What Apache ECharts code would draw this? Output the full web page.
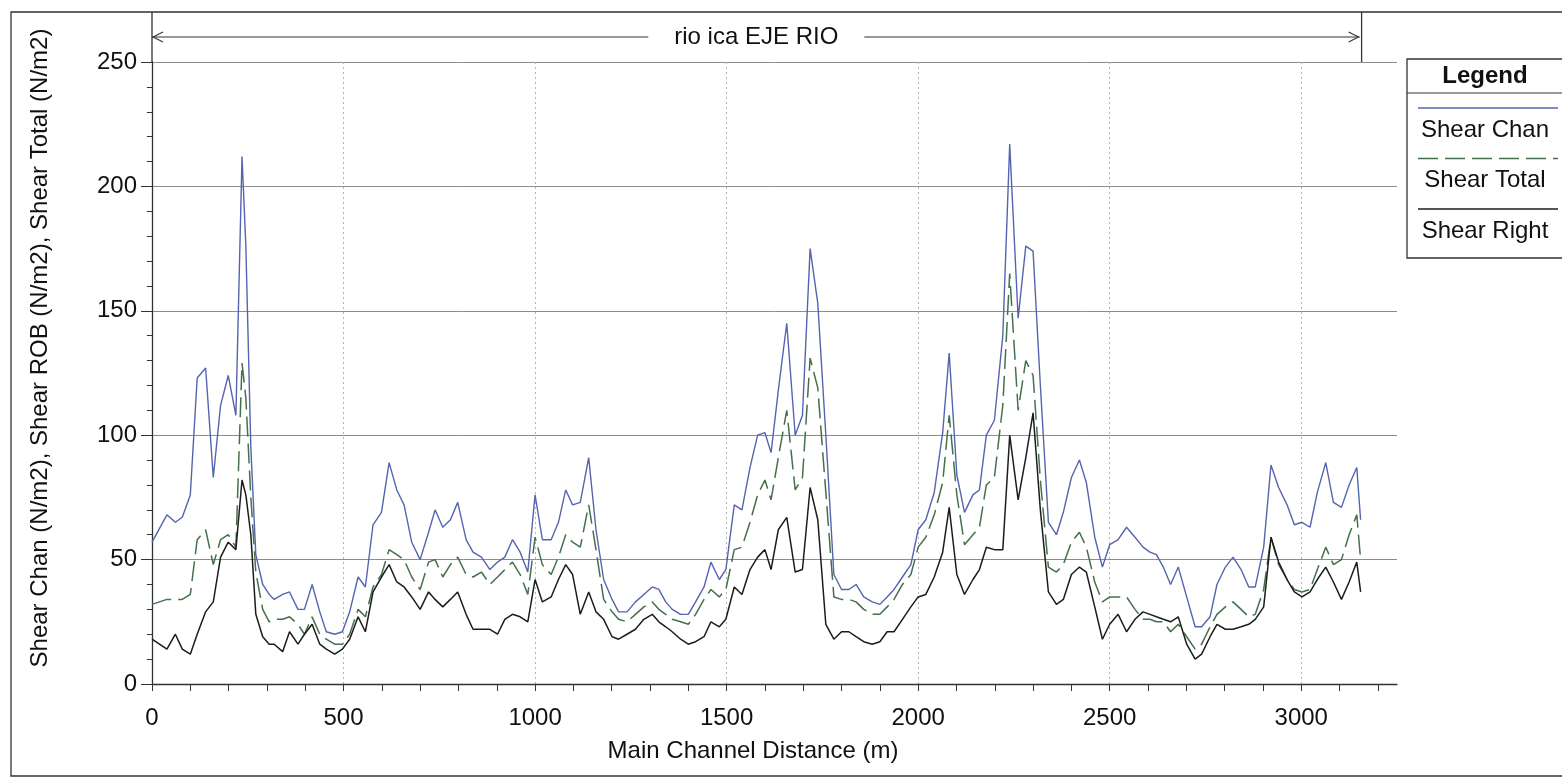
<!DOCTYPE html>
<html>
<head>
<meta charset="utf-8">
<script src="https://cdn.jsdelivr.net/npm/echarts@6/dist/echarts.min.js"></script>
<style>
  html, body { margin: 0; padding: 0; background: #fff; }
  #chart { width: 1562px; height: 778px; }
</style>
</head>
<body>
<div id="chart"></div>
<script>
// HEC-RAS profile: shear stress along the main channel, rio ica EJE RIO

// stations (m) along the main channel
const stations = [
  0, 39, 61, 79, 100, 118, 140, 160, 179, 199,
  219, 235, 245, 258, 271, 289, 306, 319, 341, 359, 381,
  398, 418, 438, 455, 477, 497, 516, 538, 557, 577,
  599, 619, 639, 658, 678, 700, 722, 739, 759, 779,
  798, 820, 838, 860, 882, 902, 921, 941, 961, 981,
  1000, 1019, 1042, 1061, 1080, 1098, 1118, 1140, 1159, 1179,
  1201, 1218, 1240, 1262, 1284, 1306, 1323, 1341, 1358, 1380,
  1400, 1419, 1441, 1459, 1481, 1498, 1520, 1540, 1561, 1581,
  1600, 1616, 1635, 1657, 1679, 1698, 1718, 1738, 1759, 1780,
  1800, 1819, 1838, 1858, 1880, 1900, 1919, 1937, 1959, 1981,
  2000, 2020, 2042, 2064, 2081, 2101, 2121, 2143, 2160, 2178,
  2199, 2221, 2239, 2261, 2281, 2300, 2319, 2340, 2361, 2379,
  2400, 2421, 2439, 2461, 2481, 2500, 2522, 2544, 2566, 2587,
  2605, 2622, 2640, 2659, 2679, 2701, 2723, 2740, 2762, 2780,
  2802, 2822, 2843, 2863, 2880, 2902, 2921, 2941, 2963, 2982,
  3002, 3023, 3042, 3064, 3084, 3105, 3125, 3145, 3155
];

// Shear Chan (N/m2)
const shearChan = [
  57, 68, 65, 67, 76, 123, 127, 83, 112, 124,
  108, 212, 176, 95, 52, 40, 36, 34, 36, 37, 30,
  30, 40, 29, 21, 20, 21, 29, 43, 39, 64,
  69, 89, 78, 72, 57, 50, 61, 70, 63, 66,
  73, 58, 53, 51, 46, 49, 51, 58, 53, 45,
  76, 58, 58, 65, 78, 72, 73, 91, 62, 42,
  34, 29, 29, 33, 36, 39, 38, 33, 30, 28,
  28, 33, 39, 49, 42, 46, 72, 70, 87, 100,
  101, 93, 118, 145, 100, 108, 175, 153, 100, 44,
  38, 38, 40, 35, 33, 32, 35, 38, 43, 48,
  62, 66, 77, 101, 133, 84, 69, 76, 78, 100,
  106, 140, 217, 147, 176, 174, 120, 65, 60, 69,
  83, 90, 81, 59, 47, 56, 58, 63, 59, 55,
  53, 52, 47, 40, 47, 35, 23, 23, 27, 40,
  47, 51, 46, 39, 39, 55, 88, 79, 72, 64,
  65, 63, 77, 89, 73, 71, 80, 87, 66
];

// Shear Total (N/m2)
const shearTotal = [
  32, 34, 34, 34, 36, 58, 62, 48, 58, 60,
  55, 129, 115, 75, 45, 30, 25, 26, 26, 27, 24,
  20, 27, 20, 18, 16, 16, 20, 30, 27, 39,
  44, 54, 52, 50, 43, 38, 49, 50, 43, 48,
  51, 44, 43, 45, 40, 43, 46, 49, 44, 36,
  59, 48, 44, 51, 60, 57, 55, 72, 54, 34,
  29, 26, 25, 28, 31, 33, 30, 28, 26, 25,
  24, 28, 34, 38, 35, 38, 54, 55, 65, 76,
  82, 74, 91, 110, 78, 83, 131, 119, 77, 35,
  34, 34, 33, 30, 28, 28, 31, 34, 40, 44,
  55, 59, 68, 81, 108, 76, 56, 60, 63, 80,
  83, 112, 165, 110, 130, 124, 82, 47, 45, 48,
  57, 61, 55, 41, 33, 35, 35, 35, 30, 26,
  26, 25, 25, 21, 24, 19, 14, 16, 23, 28,
  31, 33, 30, 27, 28, 38, 59, 48, 42, 38,
  37, 38, 46, 55, 48, 50, 60, 68, 50
];

// Shear Right / ROB (N/m2)
const shearRight = [
  18, 14, 20, 14, 12, 20, 29, 33, 51, 57,
  54, 82, 76, 60, 28, 19, 16, 16, 13, 21, 16,
  20, 24, 16, 14, 12, 14, 18, 27, 21, 37,
  43, 48, 41, 39, 35, 30, 37, 34, 31, 34,
  37, 28, 22, 22, 22, 20, 26, 28, 27, 25,
  42, 33, 35, 42, 48, 44, 28, 37, 29, 26,
  19, 18, 20, 22, 26, 28, 25, 23, 21, 18,
  16, 17, 19, 25, 23, 26, 39, 36, 46, 51,
  54, 46, 62, 67, 45, 46, 79, 66, 24, 18,
  21, 21, 19, 17, 16, 17, 21, 21, 26, 31,
  35, 36, 43, 53, 71, 44, 36, 42, 46, 55,
  54, 54, 100, 74, 91, 109, 70, 37, 32, 34,
  44, 47, 45, 31, 18, 24, 28, 21, 26, 29,
  28, 27, 26, 25, 27, 16, 10, 12, 19, 24,
  22, 22, 23, 24, 26, 31, 59, 49, 42, 37,
  35, 37, 42, 47, 41, 34, 41, 49, 37
];

const seriesNames = ['Shear Chan', 'Shear Total', 'Shear Right'];
const xLabelTicks = [0, 500, 1000, 1500, 2000, 2500, 3000];
const xSmallTicks = [
  0, 100, 200, 300, 400, 500, 600, 700, 800, 900,
  1000, 1100, 1200, 1300, 1400, 1500, 1600, 1700, 1800, 1900,
  2000, 2100, 2200, 2300, 2400, 2500, 2600, 2700, 2800, 2900,
  3000, 3100, 3200
];
const reachTitle = 'rio ica EJE RIO';
const xTitle = 'Main Channel Distance (m)';
const yTitle = 'Shear Chan (N/m2), Shear ROB (N/m2), Shear Total (N/m2)';

const FONT = '"Liberation Sans", Arial, sans-serif';
const INK = '#111';
const styles = [
  { color: '#5464ae', width: 1.4, type: 'solid' },
  { color: '#44704a', width: 1.5, type: [20, 7] },
  { color: '#1c1c1c', width: 1.5, type: 'solid' }
];
const X_MAX = 3250;

const chart = echarts.init(document.getElementById('chart'));

const seriesData = [shearChan, shearTotal, shearRight];

chart.setOption({
  animation: false,
  backgroundColor: '#fff',
  grid: { left: 152, right: 165, top: 62, bottom: 94 },
  xAxis: [
    {
      type: 'value', min: 0, max: X_MAX, interval: 500,
      axisLine: { show: false },
      axisTick: { show: false },
      axisLabel: {
        customValues: xLabelTicks, margin: 22,
        color: INK, fontSize: 24, fontFamily: FONT,
        formatter: v => String(v)
      },
      splitLine: {
        show: true, showMinLine: false, showMaxLine: false,
        lineStyle: { color: '#b4b4b4', width: 1, type: [2, 3] }
      }
    },
    {
      type: 'value', min: 0, max: X_MAX, position: 'bottom',
      axisLine: { show: true, onZero: false, lineStyle: { color: '#333', width: 1.3 } },
      axisTick: { show: true, customValues: xSmallTicks, length: 7, lineStyle: { color: '#333' } },
      axisLabel: { show: false },
      splitLine: { show: false }
    }
  ],
  yAxis: {
    type: 'value', min: 0, max: 250, interval: 50,
    axisLine: { show: true, lineStyle: { color: '#333', width: 1.3 } },
    axisTick: { show: true, length: 11, lineStyle: { color: '#333' } },
    minorTick: { show: true, splitNumber: 5, length: 5, lineStyle: { color: '#333' } },
    axisLabel: { margin: 15, color: INK, fontSize: 24, fontFamily: FONT },
    splitLine: { show: true, lineStyle: { color: '#8c8c8c', width: 1 } }
  },
  series: seriesNames.map((name, k) => ({
    name,
    type: 'line',
    xAxisIndex: 0,
    symbol: 'none',
    data: stations.map((s, i) => [s, seriesData[k][i]]),
    lineStyle: styles[k]
  }))
});

// pixel anchors from the axes
const gx0 = chart.convertToPixel({ xAxisIndex: 0 }, 0);
const xFirst = chart.convertToPixel({ xAxisIndex: 0 }, stations[0]);
const xLast = chart.convertToPixel({ xAxisIndex: 0 }, stations[stations.length - 1]);
const yTop = chart.convertToPixel({ yAxisIndex: 0 }, 250);
const frameTop = 12;
const arrowY = 37;

const lineShape = (x1, y1, x2, y2, stroke, lw) => ({
  type: 'line', silent: true,
  shape: { x1, y1, x2, y2 },
  style: { stroke, lineWidth: lw || 1.2 }
});

const graphics = [
  // outer frame
  { type: 'rect', silent: true, shape: { x: 11, y: frameTop, width: 1600, height: 764 },
    style: { fill: null, stroke: '#333', lineWidth: 1.3 } },
  // y axis carried up through the title band, and band end at the last station
  lineShape(gx0, frameTop, gx0, yTop, '#333', 1.3),
  lineShape(xLast + 1, frameTop, xLast + 1, yTop, '#333', 1.3),
  // reach bracket with arrows
  lineShape(xFirst, arrowY, xLast - 1, arrowY, '#333', 1.1),
  { type: 'polyline', silent: true,
    shape: { points: [[xFirst + 11, arrowY - 5], [xFirst + 1, arrowY], [xFirst + 11, arrowY + 5]] },
    style: { stroke: '#333', lineWidth: 1.1, fill: null } },
  { type: 'polyline', silent: true,
    shape: { points: [[xLast - 12, arrowY - 5], [xLast - 2, arrowY], [xLast - 12, arrowY + 5]] },
    style: { stroke: '#333', lineWidth: 1.1, fill: null } },
  { type: 'text', silent: true, x: (xFirst + xLast) / 2, y: arrowY,
    style: { text: reachTitle, fontSize: 24, fontFamily: FONT, fill: INK,
      align: 'center', verticalAlign: 'middle', backgroundColor: '#fff', padding: [2, 26] } },
  // axis titles
  { type: 'text', silent: true, x: 753, y: 751,
    style: { text: xTitle, fontSize: 24, fontFamily: FONT, fill: INK, align: 'center', verticalAlign: 'middle' } },
  { type: 'text', silent: true, x: 40, y: 348, rotation: Math.PI / 2,
    style: { text: yTitle, fontSize: 24, fontFamily: FONT, fill: INK, align: 'center', verticalAlign: 'middle' } }
];

// boxed legend, line sample above each name
const legLeft = 1407, legTop = 59, legW = 175, legH = 199;
graphics.push(
  { type: 'rect', silent: true, shape: { x: legLeft, y: legTop, width: legW, height: legH },
    style: { fill: '#fff', stroke: '#333', lineWidth: 1.3 } },
  lineShape(legLeft, 93, legLeft + legW, 93, '#333', 1.2),
  { type: 'text', silent: true, x: 1485, y: 76,
    style: { text: 'Legend', fontSize: 24, fontWeight: 'bold', fontFamily: FONT, fill: '#111',
      align: 'center', verticalAlign: 'middle' } }
);
seriesNames.forEach((name, k) => {
  const ly = 108 + k * 50.5;
  graphics.push(
    { type: 'line', silent: true, shape: { x1: 1418, y1: ly, x2: 1558, y2: ly },
      style: { stroke: styles[k].color, lineWidth: styles[k].width,
        lineDash: Array.isArray(styles[k].type) ? styles[k].type : null } },
    { type: 'text', silent: true, x: 1485, y: ly + 22,
      style: { text: name, fontSize: 24, fontFamily: FONT, fill: INK, align: 'center', verticalAlign: 'middle' } }
  );
});

chart.setOption({ graphic: graphics });
</script>
</body>
</html>
